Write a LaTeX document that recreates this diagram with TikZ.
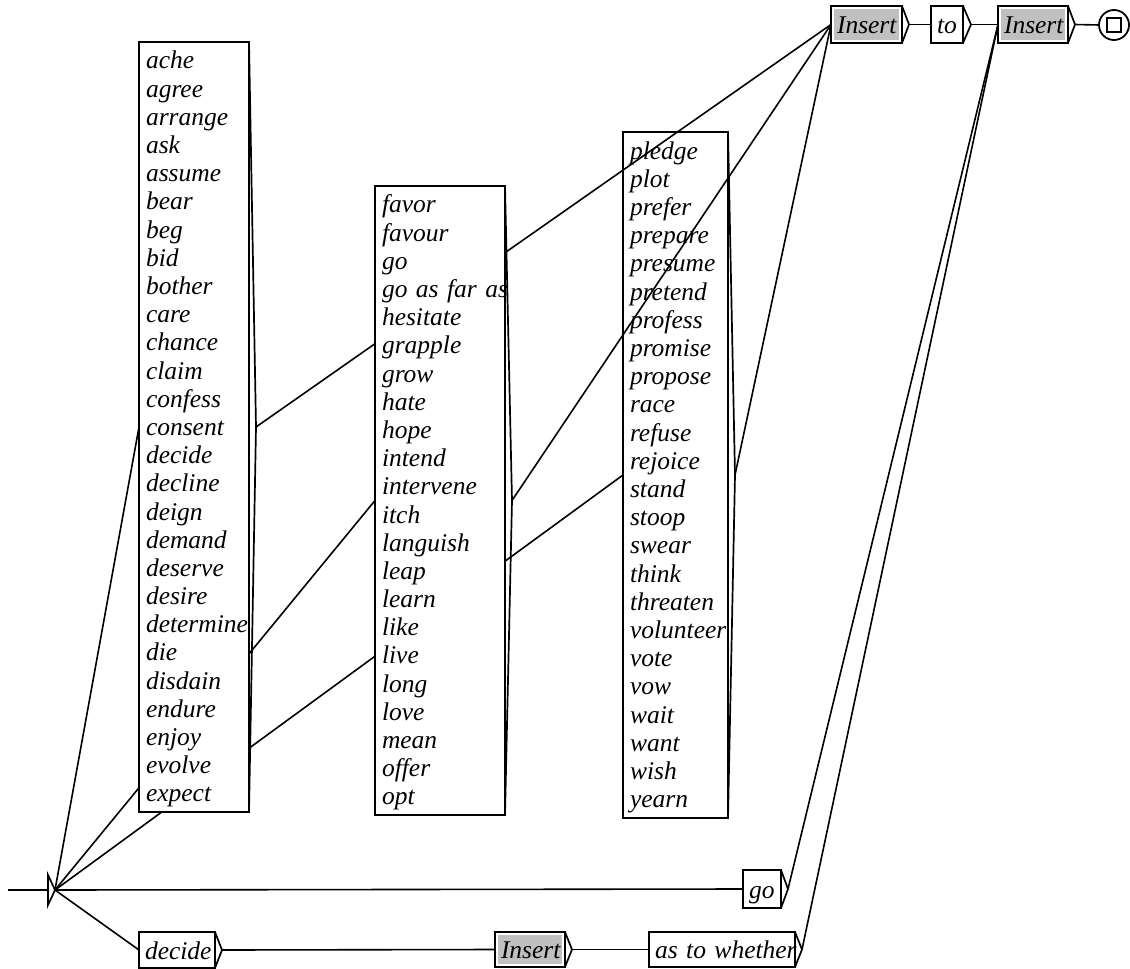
\documentclass[tikz,border=0pt]{standalone}
\usepackage{fontspec}
\setmainfont{Liberation Serif}
\usetikzlibrary{calc}
\setlength{\parindent}{0pt}
\definecolor{ugray}{RGB}{192,192,192}
\pgfdeclarelayer{bg}
\pgfdeclarelayer{boxthree}
\pgfdeclarelayer{over}
\pgfsetlayers{bg,boxthree,over,main}
\tikzset{
  edge/.style={line width=1.6pt},
  tri/.style={line width=1.7pt, line join=miter},
  ubox/.style={draw, line width=1.8pt, fill=white, rectangle, outer sep=0pt,
    inner ysep=0pt, inner xsep=7pt, anchor=north west, align=left,
    font=\itshape\fontsize{25.5}{28.19}\selectfont},
  small/.style={ubox, text height=20pt, text depth=2pt, inner xsep=6pt},
  callbox/.style={small, path picture={\fill[ugray]
      ([shift={(2.5pt,-3pt)}]path picture bounding box.north west) rectangle
      ([shift={(-3.5pt,3.5pt)}]path picture bounding box.south east);}},
}
\begin{document}
\begin{tikzpicture}[x=1pt,y=-1pt]
\useasboundingbox (0,0) rectangle (1130,969);

% ---------- big word boxes ----------
\node[ubox, text width=96pt, minimum height=770pt] (b1) at (139,42)
 {\rule{0pt}{22.3pt}ache\\agree\\arrange\\ask\\assume\\bear\\beg\\bid\\bother\\care\\chance\\claim\\confess\\consent\\decide\\decline\\deign\\demand\\deserve\\desire\\determine\\die\\disdain\\endure\\enjoy\\evolve\\expect};
\coordinate (b1o) at ($(b1.east)+(7,0)$);
\draw[tri] (b1.north east) -- (b1o) -- (b1.south east);

\node[ubox, text width=116pt, minimum height=629pt] (b2) at (375,186)
 {\rule{0pt}{22.3pt}favor\\favour\\go\\go~as~far~as\\hesitate\\grapple\\grow\\hate\\hope\\intend\\intervene\\itch\\languish\\leap\\learn\\like\\live\\long\\love\\mean\\offer\\opt};
\coordinate (b2o) at ($(b2.east)+(7,0)$);
\draw[tri] (b2.north east) -- (b2o) -- (b2.south east);

\begin{pgfonlayer}{boxthree}
\node[ubox, text width=91pt, minimum height=686pt] (b3) at (623,132)
 {\rule{0pt}{22.3pt}pledge\\plot\\prefer\\prepare\\presume\\pretend\\profess\\promise\\propose\\race\\refuse\\rejoice\\stand\\stoop\\swear\\think\\threaten\\volunteer\\vote\\vow\\wait\\want\\wish\\yearn};
\coordinate (b3o) at ($(b3.east)+(7,0)$);
\draw[tri] (b3.north east) -- (b3o) -- (b3.south east);
\end{pgfonlayer}

% ---------- small boxes ----------
\node[callbox, text width=59pt, minimum height=37pt] (ins1) at (831,6) {Insert};
\coordinate (ins1o) at ($(ins1.east)+(7,0)$);
\draw[tri] (ins1.north east) -- (ins1o) -- (ins1.south east);

\node[small, text width=20pt, minimum height=37pt] (to) at (931,6) {to};
\coordinate (too) at ($(to.east)+(8,0)$);
\draw[tri] (to.north east) -- (too) -- (to.south east);

\node[callbox, text width=58pt, minimum height=37pt] (ins2) at (998,6) {Insert};
\coordinate (ins2o) at ($(ins2.east)+(7,0)$);
\draw[tri] (ins2.north east) -- (ins2o) -- (ins2.south east);

\node[circle, draw, line width=1.8pt, minimum size=30pt, inner sep=0pt, outer sep=0pt] (fin) at (1114,25) {};
\node[draw, line width=1.8pt, minimum size=14pt, inner sep=0pt] (finsq) at (fin.center) {};

\node[small, text width=26pt, minimum height=38pt] (go) at (743,870) {go};
\coordinate (goo) at ($(go.east)+(7,0)$);
\draw[tri] (go.north east) -- (goo) -- (go.south east);

\node[small, text width=64pt, minimum height=36pt] (decide) at (139,932) {decide};
\coordinate (decideo) at ($(decide.east)+(7,0)$);
\draw[tri] (decide.north east) -- (decideo) -- (decide.south east);

\node[callbox, text width=58pt, minimum height=35pt] (ins3) at (495,932) {Insert};
\coordinate (ins3o) at ($(ins3.east)+(7,0)$);
\draw[tri] (ins3.north east) -- (ins3o) -- (ins3.south east);

\node[small, text width=134pt, minimum height=35pt] (aw) at (649,932) {as~to~whether};
\coordinate (awo) at ($(aw.east)+(7,0)$);
\draw[tri] (aw.north east) -- (awo) -- (aw.south east);

% ---------- initial state ----------
\coordinate (start) at (8,890);
\coordinate (initin) at (48,890);
\coordinate (init) at (55,890);
\draw[tri] (48,875) -- (init) -- (48,905) -- cycle;
\draw[edge] (start) -- (initin);

% ---------- connectors ----------
\begin{pgfonlayer}{bg}
\draw[edge] (init) -- (b1.west);
\draw[edge] (init) -- (b2.west);
\draw[edge] (init) -- (b3.west);
\draw[edge] (init) -- (go.west);
\draw[edge] (init) -- (decide.west);
\draw[edge] (b3o) -- (ins1.west);
\draw[edge] (ins1o) -- (to.west);
\draw[edge] (too) -- (ins2.west);
\draw[edge] (ins2o) -- (fin.west);
\draw[edge] (goo) -- (ins2.west);
\draw[edge] (decideo) -- (ins3.west);
\draw[edge] (ins3o) -- (aw.west);
\draw[edge] (awo) -- (ins2.west);
\end{pgfonlayer}
\begin{pgfonlayer}{over}
\draw[edge] (b1o) -- (ins1.west);
\draw[edge] (b2o) -- (ins1.west);
\end{pgfonlayer}
\end{tikzpicture}
\end{document}
